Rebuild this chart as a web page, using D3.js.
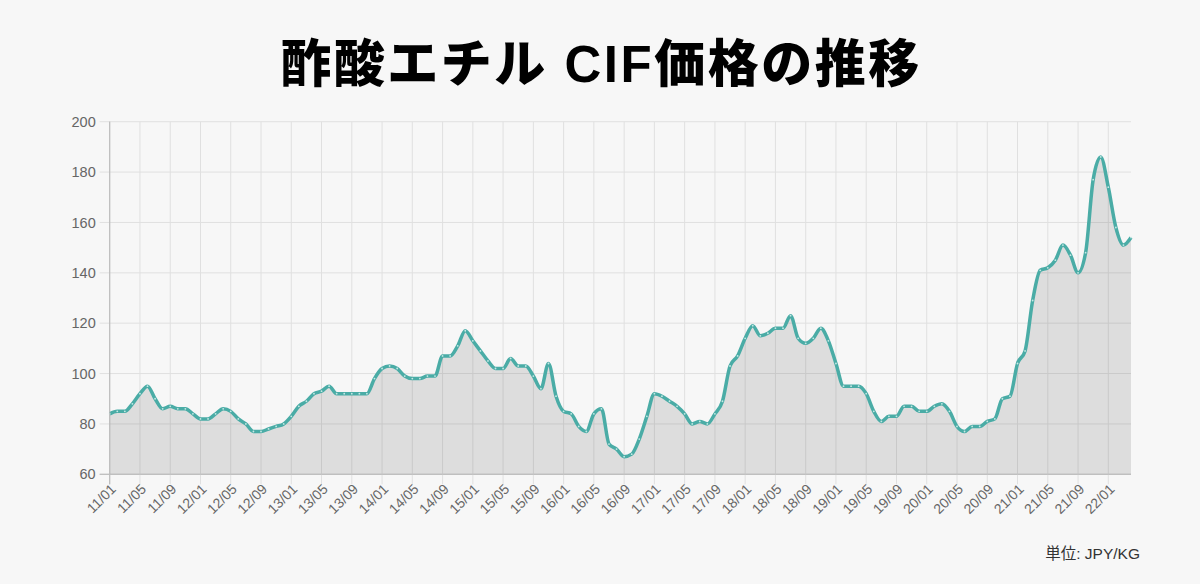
<!DOCTYPE html>
<html>
<head>
<meta charset="utf-8">
<script src="https://cdn.jsdelivr.net/npm/d3@7/dist/d3.min.js"></script>
<style>
  html, body { margin: 0; padding: 0; background: #f7f7f7; }
  svg { display: block; }
</style>
</head>
<body>
<svg id="chart" width="1200" height="584"></svg>
<script>
// ---- data ----
const title = "酢酸エチル CIF価格の推移";
const unitLabel = "単位: JPY/KG";
const startYear = 2011, endYear = 2022, endMonth = 4;
const months = [];
for (let y = startYear; y <= endYear; y++) {
  for (let m = 1; m <= 12; m++) {
    if (y === endYear && m > endMonth) break;
    months.push(String(y % 100).padStart(2, "0") + "/" + String(m).padStart(2, "0"));
  }
}
const prices = [
  84,85,85,88,92,95,90,86,87,86,
  86,84,82,82,84,86,85,82,80,77,
  77,78,79,80,83,87,89,92,93,95,
  92,92,92,92,92,98,102,103,102,99,
  98,98,99,99,107,107,111,117,113,109,
  105,102,102,106,103,103,99,94,104,91,
  85,84,79,77,84,86,72,70,67,68,
  74,83,92,91,89,87,84,80,81,80,
  84,89,103,107,114,119,115,116,118,118,
  123,114,112,114,118,113,104,95,95,95,
  92,85,81,83,83,87,87,85,85,87,
  88,85,79,77,79,79,81,82,90,91,
  104,109,129,141,142,145,151,147,140,148,
  177,186,174,158,151,154
];
const yTicks = [60, 80, 100, 120, 140, 160, 180, 200];
const xTickLabels = months.filter((d, i) => i % 4 === 0);

// ---- layout ----
const svg = d3.select("#chart");
const L = 109.7, R = 1131, T = 121.7, B = 474.3;

const x = d3.scalePoint().domain(months).range([L, R]);
const y = d3.scaleLinear().domain([60, 200]).range([B, T]);

svg.append("rect").attr("width", 1200).attr("height", 584).attr("fill", "#f7f7f7");

// title
svg.append("text")
  .attr("x", 601).attr("y", 82)
  .attr("text-anchor", "middle")
  .attr("font-family", "'Liberation Sans', 'Noto Sans CJK JP', sans-serif")
  .attr("font-weight", 900)
  .attr("font-size", 51)
  .attr("letter-spacing", 2.5)
  .attr("fill", "#000")
  .text(title);

// grid
const g = svg.append("g");
g.selectAll(".hg").data(yTicks).enter().append("line")
  .attr("x1", L - 10).attr("x2", R)
  .attr("y1", d => y(d)).attr("y2", d => y(d))
  .attr("stroke", d => d === 60 ? "#c4c4c4" : "#e0e0e0").attr("stroke-width", 1);
g.selectAll(".vg").data(xTickLabels).enter().append("line")
  .attr("x1", d => x(d)).attr("x2", d => x(d))
  .attr("y1", T).attr("y2", B + 10)
  .attr("stroke", (d, i) => i === 0 ? "#c4c4c4" : "#e0e0e0").attr("stroke-width", 1);

// area
const area = d3.area()
  .x((d, i) => x(months[i]))
  .y0(y(60))
  .y1(d => y(d))
  .curve(d3.curveMonotoneX);
svg.append("path").datum(prices)
  .attr("d", area)
  .attr("fill", "rgba(0,0,0,0.1)");

// line
const line = d3.line()
  .x((d, i) => x(months[i]))
  .y(d => y(d))
  .curve(d3.curveMonotoneX);
svg.append("path").datum(prices)
  .attr("d", line)
  .attr("fill", "none")
  .attr("stroke", "#4aaca6")
  .attr("stroke-width", 3.5)
  .attr("stroke-linejoin", "round");

// points
svg.selectAll(".pt").data(prices).enter().append("circle")
  .attr("cx", (d, i) => x(months[i]))
  .attr("cy", d => y(d))
  .attr("r", 0.9)
  .attr("fill", "#c6e8e5");

// axes lines
svg.append("line").attr("x1", L).attr("x2", L).attr("y1", T).attr("y2", B + 10)
  .attr("stroke", "#bdbdbd");
svg.append("line").attr("x1", L - 10).attr("x2", R).attr("y1", B).attr("y2", B)
  .attr("stroke", "#bdbdbd");

// y labels
const yAxis = d3.axisLeft(y).tickValues(yTicks).tickSize(0).tickPadding(14);
const ya = svg.append("g").attr("transform", `translate(${L},0)`).call(yAxis);
ya.select(".domain").remove();
ya.selectAll("text")
  .attr("font-family", "'Liberation Sans', Arial, sans-serif")
  .attr("font-size", 14.5)
  .attr("fill", "#666");

// x labels
const xAxis = d3.axisBottom(x).tickValues(xTickLabels).tickSize(0).tickPadding(0);
const xa = svg.append("g").attr("transform", `translate(0,${B})`).call(xAxis);
xa.select(".domain").remove();
xa.selectAll("text")
  .attr("font-family", "'Liberation Sans', Arial, sans-serif")
  .attr("font-size", 14)
  .attr("fill", "#666")
  .attr("text-anchor", "end")
  .attr("dy", null)
  .attr("y", 0)
  .attr("transform", "translate(4,13) rotate(-45)")
  .attr("dominant-baseline", "middle");

// unit label
svg.append("text")
  .attr("x", 1140).attr("y", 559)
  .attr("text-anchor", "end")
  .attr("font-family", "'Liberation Sans', 'Noto Sans CJK JP', sans-serif")
  .attr("font-size", 15.5)
  .attr("fill", "#333")
  .text(unitLabel);
</script>
</body>
</html>
